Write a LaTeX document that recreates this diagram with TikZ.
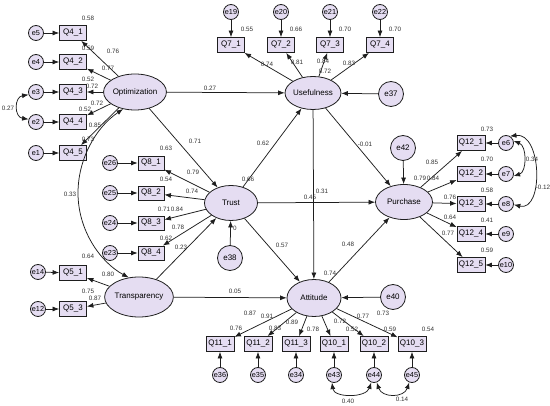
\documentclass[tikz,border=0pt]{standalone}
\usepackage{fontspec}
\setmainfont{Liberation Sans}
\usetikzlibrary{shapes.geometric,arrows.meta}
\definecolor{lav}{RGB}{229,221,242}
\definecolor{ln}{RGB}{30,30,30}
\definecolor{nm}{RGB}{50,50,50}
\begin{document}
\begin{tikzpicture}[x=1pt,y=-1pt,
 lat/.style={ellipse,draw=ln,line width=0.8pt,fill=lav,inner sep=0pt,font=\fontsize{8}{9}\selectfont},
 obs/.style={rectangle,draw=ln,line width=0.8pt,fill=lav,minimum width=27pt,minimum height=15pt,inner sep=0pt,font=\fontsize{8}{9}\selectfont},
 err/.style={circle,draw=ln,line width=0.8pt,fill=lav,minimum size=15pt,inner sep=0pt,font=\fontsize{7.3}{8}\selectfont},
 bigerr/.style={circle,draw=ln,line width=0.8pt,fill=lav,minimum size=25pt,inner sep=0pt,font=\fontsize{8}{9}\selectfont},
 num/.style={font=\fontsize{6.3}{7}\selectfont,text=nm,inner sep=0pt},
 pth/.style={draw=ln,line width=0.75pt,-{Latex[length=6.5pt,width=5pt]}},
 cov/.style={draw=ln,line width=0.75pt,{Latex[length=6.5pt,width=5pt]}-{Latex[length=6.5pt,width=5pt]}}
]
\useasboundingbox (0,0) rectangle (550,406);
% latent variables
\node[lat,minimum width=51pt,minimum height=36pt] (opt) at (135,92) {Optimization};
\node[lat,minimum width=52pt,minimum height=33pt] (use) at (313,93) {Usefulness};
\node[lat,minimum width=53pt,minimum height=35pt] (trust) at (231,203) {Trust};
\node[lat,minimum width=57pt,minimum height=35pt] (pur) at (404,202) {Purchase};
\node[lat,minimum width=54pt,minimum height=37pt] (att) at (314,298) {Attitude};
\node[lat,minimum width=59pt,minimum height=40pt] (trans) at (139,297) {Transparency};
% big errors
\node[bigerr] (e37) at (391,94) {e37};
\node[bigerr] (e38) at (230,258) {e38};
\node[bigerr] (e42) at (403,148) {e42};
\node[bigerr] (e40) at (393,297) {e40};
% Optimization indicators
\foreach \e/\y in {e5/33,e4/62,e3/92,e2/122,e1/153}{
  \node[err] (\e) at (36,\y) {\e};
}
\node[obs] (q41) at (73,33) {Q4\_1};
\node[obs] (q42) at (73,62) {Q4\_2};
\node[obs] (q43) at (73,92) {Q4\_3};
\node[obs] (q44) at (73,122) {Q4\_4};
\node[obs] (q45) at (73,153) {Q4\_5};
\foreach \e/\q in {e5/q41,e4/q42,e3/q43,e2/q44,e1/q45}{\draw[pth] (\e) -- (\q);}
\foreach \q in {q41,q42,q43,q44,q45}{\draw[pth] (opt) -- (\q);}
% Trust indicators
\node[obs,minimum width=26pt,minimum height=14pt] (q81) at (151,163) {Q8\_1};
\node[obs,minimum width=26pt,minimum height=14pt] (q82) at (151,193) {Q8\_2};
\node[obs,minimum width=26pt,minimum height=14pt] (q83) at (151,223) {Q8\_3};
\node[obs,minimum width=26pt,minimum height=14pt] (q84) at (151,253) {Q8\_4};
\node[err] (e26) at (110,163) {e26};
\node[err] (e25) at (110,193) {e25};
\node[err] (e24) at (110,223) {e24};
\node[err] (e23) at (110,253) {e23};
\foreach \e/\q in {e26/q81,e25/q82,e24/q83,e23/q84}{\draw[pth] (\e) -- (\q);}
\foreach \q in {q81,q82,q83,q84}{\draw[pth] (trust) -- (\q);}
% Transparency indicators
\node[obs] (q51) at (73,273) {Q5\_1};
\node[obs] (q53) at (73,309) {Q5\_3};
\node[err] (e14) at (38,272) {e14};
\node[err] (e12) at (38,309) {e12};
\draw[pth] (e14) -- (q51);
\draw[pth] (e12) -- (q53);
\draw[pth] (trans) -- (q51);
\draw[pth] (trans) -- (q53);
% Usefulness indicators
\foreach \q/\e/\x/\l in {q71/e19/231/Q7\_1,q72/e20/281/Q7\_2,q73/e21/330/Q7\_3,q74/e22/380/Q7\_4}{
  \node[obs] (\q) at (\x,45) {\l};
  \node[err] (\e) at (\x,12) {\e};
  \draw[pth] (\e) -- (\q);
  \draw[pth] (use) -- (\q);
}
% Purchase indicators
\foreach \q/\e/\y/\l in {q121/e6/143/Q12\_1,q122/e7/174/Q12\_2,q123/e8/204/Q12\_3,q124/e9/234/Q12\_4,q125/e10/265/Q12\_5}{
  \node[obs,minimum width=28pt] (\q) at (471,\y) {\l};
  \node[err] (\e) at (506,\y) {\e};
  \draw[pth] (\e) -- (\q);
  \draw[pth] (pur) -- (\q);
}
% Attitude indicators
\foreach \q/\e/\x/\l in {q111/e36/220/Q11\_1,q112/e35/258/Q11\_2,q113/e34/296/Q11\_3,q101/e43/334/Q10\_1,q102/e44/374/Q10\_2,q103/e45/412/Q10\_3}{
  \node[obs,minimum width=28pt] (\q) at (\x,344) {\l};
  \node[err] (\e) at (\x,375) {\e};
  \draw[pth] (\e) -- (\q);
  \draw[pth] (att) -- (\q);
}
% structural paths
\draw[pth] (opt) -- (use);
\draw[pth] (opt) -- (trust);
\draw[pth] (trans) -- (trust);
\draw[pth] (trans) -- (att);
\draw[pth] (trust) -- (use);
\draw[pth] (trust) -- (pur);
\draw[pth] (trust) -- (att);
\draw[pth] (use) -- (pur);
\draw[pth] (use) -- (att);
\draw[pth] (att) -- (pur);
\draw[pth] (e37) -- (use);
\draw[pth] (e38) -- (trust);
\draw[pth] (e42) -- (pur);
\draw[pth] (e40) -- (att);
% covariances
\draw[cov] (e3.200) .. controls (14,97) and (14,117) .. (e2.160);
\draw[cov] (opt.235) .. controls (95,128) and (78,160) .. (78,193) .. controls (78,230) and (100,262) .. (trans.118);
\draw[cov] (e6.15) .. controls (527,146) and (527,172) .. (e7.-15);
\draw[cov] (e6.60) .. controls (542,132) and (544,212) .. (e8.-5);
\draw[cov] (e43.255) .. controls (334,398) and (366,398) .. (e44.250);
\draw[cov] (e44.290) .. controls (382,398) and (404,398) .. (e45.250);
% numbers: Optimization
\node[num] at (88,18) {0.58};
\node[num] at (113,51) {0.76};
\node[num] at (88,48) {0.59};
\node[num] at (108,68) {0.77};
\node[num] at (88,79) {0.52};
\node[num] at (92,86) {0.72};
\node[num] at (97,103) {0.72};
\node[num] at (85,109) {0.52};
\node[num] at (95,125) {0.85};
\node[num] at (88,139) {0.73};
\node[num] at (8,108) {0.27};
\node[num] at (210,88) {0.27};
\node[num] at (195,141) {0.71};
\node[num] at (70,194) {0.33};
% Trust
\node[num] at (166,148) {0.63};
\node[num] at (193,172) {0.79};
\node[num] at (166,179) {0.54};
\node[num] at (192,191) {0.74};
\node[num] at (164,209) {0.71};
\node[num] at (177,209) {0.84};
\node[num] at (178,227) {0.78};
\node[num] at (166,238) {0.62};
\node[num] at (181,247) {0.23};
\node[num] at (248,179) {0.66};
\node[num] at (235,228) {0};
% Transparency
\node[num] at (88,256) {0.64};
\node[num] at (108,274) {0.80};
\node[num] at (88,291) {0.75};
\node[num] at (95,298) {0.87};
\node[num] at (235,291) {0.05};
% Usefulness
\node[num] at (247,29) {0.55};
\node[num] at (296,29) {0.66};
\node[num] at (345,29) {0.70};
\node[num] at (395,29) {0.70};
\node[num] at (267,64) {0.74};
\node[num] at (297,62) {0.81};
\node[num] at (323,61) {0.84};
\node[num] at (325,71) {0.72};
\node[num] at (349,63) {0.83};
\node[num] at (263,143) {0.62};
\node[num] at (365,144) {-0.01};
\node[num] at (322,191) {0.31};
\node[num] at (310,197) {0.45};
\node[num] at (282,245) {0.57};
\node[num] at (348,244) {0.48};
\node[num] at (330,273) {0.74};
% Purchase
\node[num] at (487,129) {0.73};
\node[num] at (432,162) {0.85};
\node[num] at (487,159) {0.70};
\node[num] at (420,178) {0.79};
\node[num] at (433,178) {0.84};
\node[num] at (487,190) {0.58};
\node[num] at (450,197) {0.76};
\node[num] at (487,220) {0.41};
\node[num] at (450,217) {0.64};
\node[num] at (487,250) {0.59};
\node[num] at (448,233) {0.77};
\node[num] at (532,159) {0.34};
\node[num] at (543,187) {-0.12};
% Attitude
\node[num] at (250,313) {0.87};
\node[num] at (267,316) {0.91};
\node[num] at (236,328) {0.76};
\node[num] at (275,328) {0.83};
\node[num] at (292,322) {0.89};
\node[num] at (313,329) {0.78};
\node[num] at (340,321) {0.72};
\node[num] at (352,329) {0.52};
\node[num] at (363,316) {0.77};
\node[num] at (383,313) {0.73};
\node[num] at (390,329) {0.59};
\node[num] at (428,329) {0.54};
\node[num] at (348,401) {0.40};
\node[num] at (402,399) {0.14};
\end{tikzpicture}
\end{document}
